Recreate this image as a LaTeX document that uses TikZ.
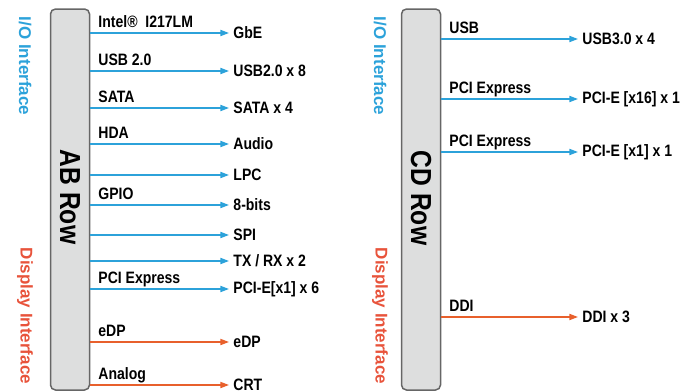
\documentclass[tikz,border=0pt]{standalone}
\usepackage{fontspec}
\setmainfont{Liberation Sans}
\newfontfamily\narrowsans[FakeStretch=0.85]{Liberation Sans}
\usepackage{tikz}
\usetikzlibrary{arrows.meta}
\tikzset{>={Triangle[length=9pt,width=6pt]}}
\definecolor{ioblue}{HTML}{2CA2DA}
\definecolor{dporange}{HTML}{E8602C}
\definecolor{dpred}{HTML}{E8533B}
\definecolor{rowfill}{HTML}{DDDEDE}
\definecolor{rowline}{HTML}{666666}
\tikzset{
  rowbox/.style={draw=rowline,fill=rowfill,rounded corners=5pt,line width=1.5pt,
    minimum width=39pt,minimum height=381pt,inner sep=0pt},
  rowname/.style={font=\narrowsans\bfseries\fontsize{29}{30}\selectfont,rotate=-90,inner sep=0pt},
  side/.style={font=\bfseries\fontsize{17}{18}\selectfont,rotate=-90,inner sep=0pt},
  target/.style={font=\narrowsans\bfseries\fontsize{16.5}{18}\selectfont,anchor=west,
    inner xsep=4pt,inner ysep=0pt},
  buslbl/.style={font=\narrowsans\bfseries\fontsize{16.5}{18}\selectfont,anchor=base west,
    inner sep=0pt,xshift=8pt,yshift=6pt},
  wire/.style={->,line width=2pt}
}
% \bus{row}{name}{y}{target text}{colour}{shift}
\newcommand{\bus}[6]{%
  \node[target,xshift=#6] (#2) at (#1.east |- 0,#3) {#4};
  \draw[wire,#5] (#1.east |- #2.west) -- (#2.west);
}
% \lbl{row}{name}{text}
\newcommand{\lbl}[3]{\node[buslbl] (#2-lbl) at (#1.east |- #2.west) {#3};}

\begin{document}
\begin{tikzpicture}[x=1pt,y=-1pt]
\useasboundingbox (0,0) rectangle (694,391);
% rows
\node[rowbox] (ab) at (70,199.5) {};
\node[rowname] (ab-name) at (70,197) {AB Row};
\node[rowbox] (cd) at (421,199.5) {};
\node[rowname] (cd-name) at (421,198) {CD Row};
% side titles
\node[side,text=ioblue] (ab-io) at (25,66) {I/O Interface};
\node[side,text=dpred] (ab-dp) at (25,316) {Display Interface};
\node[side,text=ioblue] (cd-io) at (380,66) {I/O Interface};
\node[side,text=dpred] (cd-dp) at (380,316) {Display Interface};
% AB row signals
\bus{ab}{gbe}{33}{GbE}{ioblue}{139pt}       \lbl{ab}{gbe}{Intel®\ \ I217LM}
\bus{ab}{usb}{71}{USB2.0 x 8}{ioblue}{139pt} \lbl{ab}{usb}{USB 2.0}
\bus{ab}{sata}{108}{SATA x 4}{ioblue}{139pt} \lbl{ab}{sata}{SATA}
\bus{ab}{hda}{144}{Audio}{ioblue}{139pt}     \lbl{ab}{hda}{HDA}
\bus{ab}{lpc}{175}{LPC}{ioblue}{139pt}
\bus{ab}{gpio}{205}{8-bits}{ioblue}{139pt}   \lbl{ab}{gpio}{GPIO}
\bus{ab}{spi}{235}{SPI}{ioblue}{139pt}
\bus{ab}{uart}{261}{TX / RX x 2}{ioblue}{139pt}
\bus{ab}{pcie}{289}{PCI-E[x1] x 6}{ioblue}{139pt} \lbl{ab}{pcie}{PCI Express}
\bus{ab}{edp}{342}{eDP}{dporange}{139pt}     \lbl{ab}{edp}{eDP}
\bus{ab}{crt}{385}{CRT}{dporange}{139pt}     \lbl{ab}{crt}{Analog}
% CD row signals
\bus{cd}{usbiii}{39}{USB3.0 x 4}{ioblue}{137pt}        \lbl{cd}{usbiii}{USB}
\bus{cd}{peg}{99}{PCI-E [x16] x 1}{ioblue}{137pt}      \lbl{cd}{peg}{PCI Express}
\bus{cd}{pexi}{152}{PCI-E [x1] x 1}{ioblue}{137pt}     \lbl{cd}{pexi}{PCI Express}
\bus{cd}{ddi}{317}{DDI x 3}{dporange}{137pt}           \lbl{cd}{ddi}{DDI}
\end{tikzpicture}
\end{document}
